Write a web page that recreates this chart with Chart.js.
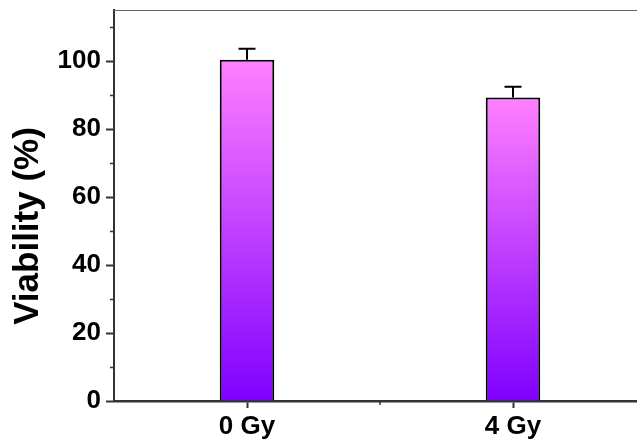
<!DOCTYPE html>
<html>
<head>
<meta charset="utf-8">
<script src="https://cdn.jsdelivr.net/npm/chart.js@4"></script>
<style>
  html, body { margin: 0; padding: 0; background: #fff; overflow: hidden; }
  #wrap { width: 660px; height: 443px; }
</style>
</head>
<body>
<div id="wrap"><canvas id="chart"></canvas></div>
<script>
// ── data ──
const categories = ['0 Gy', '4 Gy'];
const viability = [100.4, 89.3];
const errors = [3.2, 3.1];
const yMinorTicks = [10, 30, 50, 70, 90, 110];
const yTitle = 'Viability (%)';

const FONT = '"Liberation Sans", Arial, sans-serif';
const AXIS = '#333';

// bars fade from violet at the base to pink at the top
function barGradient(ctx) {
  const chart = ctx.chart;
  if (!chart.chartArea || ctx.parsed == null) return '#c060ff';
  const y = chart.scales.y;
  const top = y.getPixelForValue(ctx.parsed.y);
  const bottom = y.getPixelForValue(0);
  const g = chart.ctx.createLinearGradient(0, top, 0, bottom);
  g.addColorStop(0, 'rgb(255,128,255)');
  g.addColorStop(1, 'rgb(128,0,255)');
  return g;
}

// error bars, minor ticks, top frame line and the y title
const extras = {
  id: 'extras',
  afterDatasetsDraw(chart) {
    const { ctx, chartArea, scales } = chart;
    const meta = chart.getDatasetMeta(0);
    ctx.save();
    ctx.strokeStyle = '#000';
    ctx.lineWidth = 2;
    meta.data.forEach((bar, i) => {
      const yTop = scales.y.getPixelForValue(viability[i] + errors[i]);
      const yBar = scales.y.getPixelForValue(viability[i]);
      ctx.beginPath();
      ctx.moveTo(bar.x, yBar);
      ctx.lineTo(bar.x, yTop);
      ctx.moveTo(bar.x - 8.5, yTop);
      ctx.lineTo(bar.x + 8.5, yTop);
      ctx.stroke();
    });

    ctx.strokeStyle = AXIS;
    ctx.lineWidth = 1.5;
    ctx.beginPath();
    yMinorTicks.forEach(v => {
      const py = Math.round(scales.y.getPixelForValue(v)) + 0.5;
      ctx.moveTo(chartArea.left - 4, py);
      ctx.lineTo(chartArea.left, py);
    });
    // minor tick between categories
    const mid = (scales.x.getPixelForValue(0) + scales.x.getPixelForValue(1)) / 2;
    ctx.moveTo(mid, chartArea.bottom);
    ctx.lineTo(mid, chartArea.bottom + 4);
    ctx.stroke();

    ctx.strokeStyle = '#666';
    ctx.lineWidth = 1;
    ctx.beginPath();
    ctx.moveTo(chartArea.left, chartArea.top + 0.5);
    ctx.lineTo(chartArea.right, chartArea.top + 0.5);
    ctx.stroke();

    // rotated axis title, sitting a little below the axis centre as in the figure
    ctx.translate(28, 226);
    ctx.rotate(-Math.PI / 2);
    ctx.fillStyle = '#000';
    ctx.font = 'bold 35px ' + FONT;
    ctx.textAlign = 'center';
    ctx.textBaseline = 'middle';
    ctx.fillText(yTitle, 0, 0);
    ctx.restore();
  }
};

new Chart(document.getElementById('chart'), {
  type: 'bar',
  data: {
    labels: categories,
    datasets: [{
      data: viability,
      backgroundColor: barGradient,
      borderColor: '#000',
      borderWidth: 2,
      borderSkipped: 'bottom',
      categoryPercentage: 1,
      barPercentage: 0.205
    }]
  },
  options: {
    responsive: true,
    maintainAspectRatio: false,
    animation: false,
    layout: { padding: { top: 10, right: 14, left: 0, bottom: 0 } },
    plugins: { legend: { display: false }, tooltip: { enabled: false } },
    scales: {
      x: {
        offset: true,
        grid: { offset: false, drawOnChartArea: false, tickLength: 7, tickColor: AXIS, tickWidth: 2 },
        border: { color: AXIS, width: 2.5 },
        ticks: { color: '#000', font: { family: FONT, size: 26, weight: 'bold' }, padding: 3 },
        afterFit: s => { s.height = 42; s.paddingLeft = 0; s.paddingRight = 0; }
      },
      y: {
        min: 0,
        max: 115,
        grid: { drawOnChartArea: false, tickLength: 8, tickColor: AXIS, tickWidth: 2 },
        border: { color: AXIS, width: 2 },
        ticks: {
          stepSize: 20,
          includeBounds: false,
          color: '#000',
          padding: 5,
          font: { family: FONT, size: 26, weight: 'bold' }
        },
        afterFit: s => { s.width = 114; s.paddingTop = 0; s.paddingBottom = 0; }
      }
    }
  },
  plugins: [extras]
});
</script>
</body>
</html>
